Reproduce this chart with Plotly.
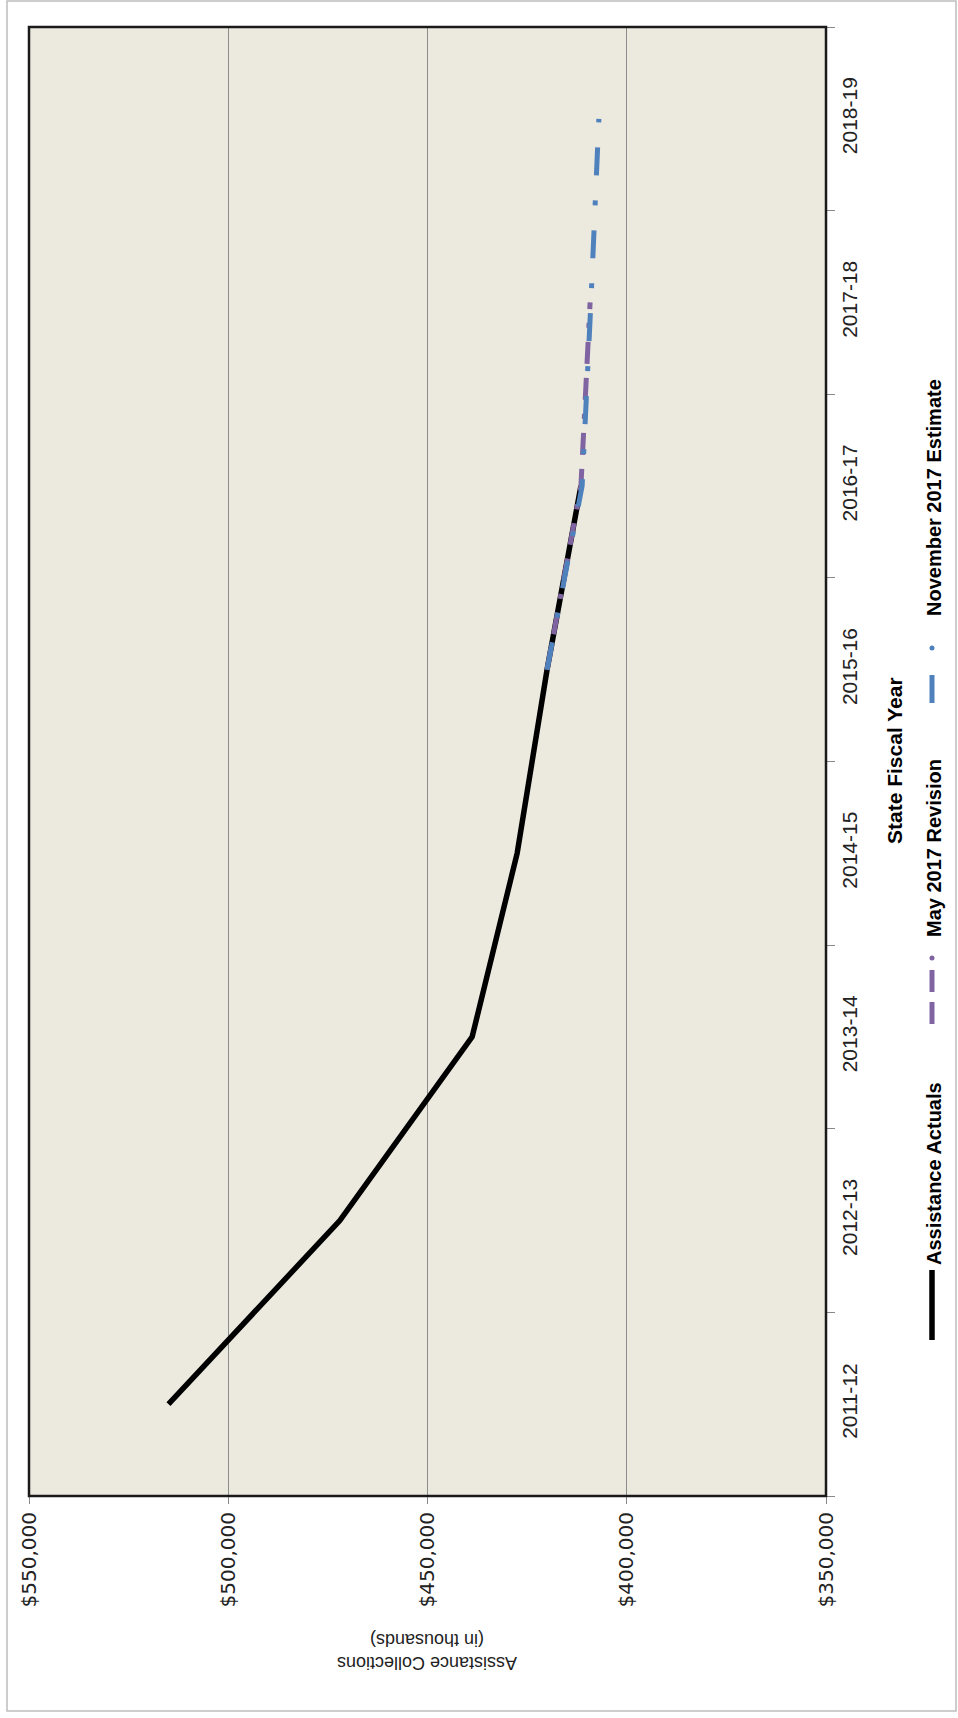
import plotly.graph_objects as go

# Fiscal years and collections (in thousands of dollars)
years = ["2011-12", "2012-13", "2013-14", "2014-15", "2015-16", "2016-17", "2017-18", "2018-19"]
actual_years = ["2011-12", "2012-13", "2013-14", "2014-15", "2015-16", "2016-17"]
actual_vals = [515000, 472000, 438800, 427500, 420000, 411500]
may_years = ["2015-16", "2016-17", "2017-18"]
may_vals = [420000, 411500, 409200]
nov_years = ["2015-16", "2016-17", "2017-18", "2018-19"]
nov_vals = [420000, 411200, 409000, 407000]
value_ticks = [550000, 500000, 450000, 400000, 350000]
value_labels = ["$550,000", "$500,000", "$450,000", "$400,000", "$350,000"]

W, H = 958, 1718
L, R, T, B = 29, 826, 27, 1496   # plot area in pixels


def px(x):
    return (x - L) / (R - L)


def py(y):
    return (B - y) / (B - T)


BLACK = "#000000"
PURPLE = "#8064A2"
BLUE = "#4F81BD"

fig = go.Figure()
fig.add_trace(go.Scatter(
    x=actual_vals, y=actual_years, mode="lines",
    line=dict(color=BLACK, width=5.5), name="Assistance Actuals",
))
fig.add_trace(go.Scatter(
    x=may_vals, y=may_years, mode="lines",
    line=dict(color=PURPLE, width=5, dash="22px,14px,22px,14px,5px,14px"),
    name="May 2017 Revision",
))
fig.add_trace(go.Scatter(
    x=nov_vals, y=nov_years, mode="lines",
    line=dict(color=BLUE, width=5, dash="28px,25px,5px,25px"),
    name="November 2017 Estimate",
))

shapes = [
    # plot border
    dict(type="rect", xref="paper", yref="paper", x0=0, x1=1, y0=0, y1=1,
         line=dict(color="#1a1a1a", width=2.5), layer="above"),
    # outer chart frame
    dict(type="rect", xref="paper", yref="paper", x0=px(7), x1=px(956), y0=py(1711), y1=py(1),
         line=dict(color="#BDBDBD", width=1.5), layer="above"),
    # legend samples
    dict(type="line", xref="paper", yref="paper", x0=px(932), x1=px(932), y0=py(1270), y1=py(1340),
         line=dict(color=BLACK, width=5.5)),
    dict(type="line", xref="paper", yref="paper", x0=px(932), x1=px(932), y0=py(1002), y1=py(1024),
         line=dict(color=PURPLE, width=5)),
    dict(type="line", xref="paper", yref="paper", x0=px(932), x1=px(932), y0=py(970), y1=py(992),
         line=dict(color=PURPLE, width=5)),
    dict(type="circle", xref="paper", yref="paper", x0=px(929.5), x1=px(934.5), y0=py(955.5), y1=py(960.5),
         fillcolor=PURPLE, line=dict(width=0)),
    dict(type="line", xref="paper", yref="paper", x0=px(932), x1=px(932), y0=py(675), y1=py(703),
         line=dict(color=BLUE, width=5)),
    dict(type="circle", xref="paper", yref="paper", x0=px(929.5), x1=px(934.5), y0=py(645.5), y1=py(650.5),
         fillcolor=BLUE, line=dict(width=0)),
]

legend_font = dict(family="Liberation Sans, Arial, sans-serif", size=20, color="#000000")
annotations = [
    dict(text="<b>Assistance Actuals</b>", x=px(934), y=py(1174), xref="paper", yref="paper",
         textangle=-90, showarrow=False, xanchor="center", yanchor="middle", font=legend_font),
    dict(text="<b>May 2017 Revision</b>", x=px(934), y=py(848), xref="paper", yref="paper",
         textangle=-90, showarrow=False, xanchor="center", yanchor="middle", font=legend_font),
    dict(text="<b>November 2017 Estimate</b>", x=px(934), y=py(498), xref="paper", yref="paper",
         textangle=-90, showarrow=False, xanchor="center", yanchor="middle", font=legend_font),
    dict(text="<b>State Fiscal Year</b>", x=px(894), y=py(761), xref="paper", yref="paper",
         textangle=-90, showarrow=False, xanchor="center", yanchor="middle",
         font=dict(family="Liberation Sans, Arial, sans-serif", size=21, color="#000000")),
    dict(text="Assistance Collections<br>(in thousands)", x=px(427), y=py(1652), xref="paper", yref="paper",
         textangle=180, showarrow=False, xanchor="center", yanchor="middle",
         font=dict(family="Liberation Sans, Arial, sans-serif", size=18, color="#222222")),
]

fig.update_layout(
    width=W, height=H,
    margin=dict(l=L, r=W - R, t=T, b=H - B),
    paper_bgcolor="white",
    plot_bgcolor="#ECE9DF",
    showlegend=False,
    shapes=shapes,
    annotations=annotations,
    xaxis=dict(
        range=[550000, 350000],
        tickvals=value_ticks, ticktext=value_labels,
        tickangle=-90,
        tickfont=dict(family="DejaVu Sans, Verdana, sans-serif", size=20, color="#222222"),
        ticks="outside", ticklen=7, tickcolor="#888888", tickwidth=1,
        showgrid=True, gridcolor="#8C8C8C", gridwidth=1,
        zeroline=False, showline=False,
    ),
    yaxis=dict(
        type="category", categoryorder="array", categoryarray=years,
        range=[-0.5, len(years) - 0.5],
        side="right",
        tickangle=-90,
        tickson="boundaries",
        ticklabelstandoff=9,
        tickfont=dict(family="Liberation Sans, Arial, sans-serif", size=21, color="#222222"),
        ticks="outside", ticklen=8, tickcolor="#888888", tickwidth=1,
        showgrid=False, zeroline=False, showline=False,
    ),
)

fig.write_html("out.html")
